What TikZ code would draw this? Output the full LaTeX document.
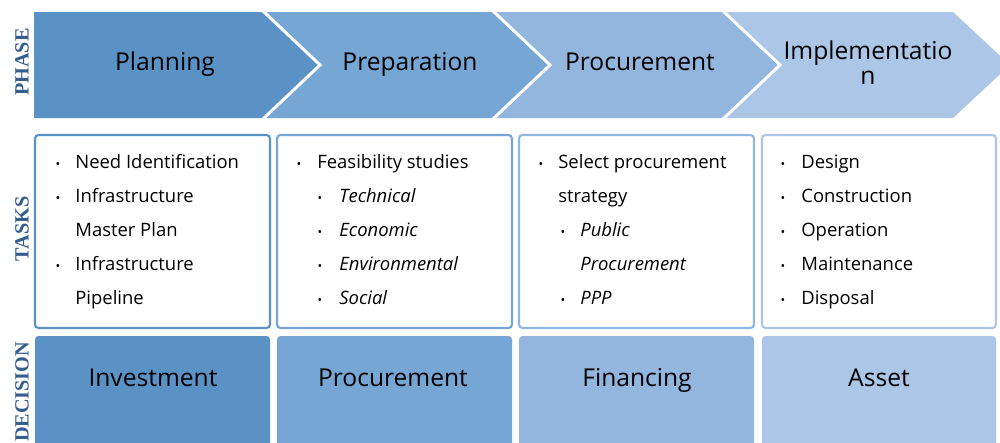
\documentclass[tikz,border=0pt]{standalone}
\usepackage{fontspec}
\setmainfont{Open Sans}
\newfontfamily\labelfont{Liberation Serif}
\usepackage{tikz}
\usetikzlibrary{positioning}

\definecolor{phaseA}{RGB}{91,146,198}
\definecolor{phaseB}{RGB}{117,166,212}
\definecolor{phaseC}{RGB}{146,182,222}
\definecolor{phaseD}{RGB}{172,198,232}
\definecolor{labelblue}{RGB}{52,92,140}

\tikzset{
  chevron/.style={fill=#1},
  separator/.style={draw=white, line width=1.7pt},
  taskbox/.style={draw=#1, line width=1.2pt, rounded corners=2pt, fill=white},
  decbox/.style={fill=#1, rounded corners=2pt},
  rowlabel/.style={rotate=90, font=\labelfont\bfseries\fontsize{11.5}{12}\selectfont, text=labelblue},
  phasetext/.style={anchor=base, inner sep=0pt, font=\fontsize{14}{14}\selectfont, align=center},
  item/.style={anchor=base west, inner sep=0pt, font=\fontsize{10.5}{12}\selectfont},
  subitem/.style={anchor=base west, inner sep=0pt, font=\itshape\fontsize{10.5}{12}\selectfont},
  dot/.style={anchor=base, inner sep=0pt, font=\fontsize{7}{8}\selectfont},
}

\begin{document}
\begin{tikzpicture}[x=0.2mm, y=-0.2mm]
\useasboundingbox (0,0) rectangle (1000,442);

% phase chevrons
\fill[chevron=phaseA] (34,12) -- (263,12) -- (320,65) -- (263,118) -- (34,118) -- cycle;
\fill[chevron=phaseB] (263,12) -- (493,12) -- (550,65) -- (493,118) -- (263,118) -- (320,65) -- cycle;
\fill[chevron=phaseC] (493,12) -- (723,12) -- (780,65) -- (723,118) -- (493,118) -- (550,65) -- cycle;
\fill[chevron=phaseD] (723,12) -- (953,12) -- (1010,65) -- (953,118) -- (723,118) -- (780,65) -- cycle;
\draw[separator] (263,11) -- (320,65) -- (263,119);
\draw[separator] (493,11) -- (550,65) -- (493,119);
\draw[separator] (723,11) -- (780,65) -- (723,119);

\node[phasetext] (planning) at (165,70) {Planning};
\node[phasetext] (preparation) at (410,70) {Preparation};
\node[phasetext] (procurement) at (640,70) {Procurement};
\node[phasetext] (implementation) at (868,84) {Implementatio\\n};

% task boxes
\draw[taskbox=phaseA] (35,135) rectangle (270,328);
\draw[taskbox=phaseB] (277,135) rectangle (512,328);
\draw[taskbox=phaseC] (519,135) rectangle (754,328);
\draw[taskbox=phaseD] (762,135) rectangle (996,328);

% planning tasks
\node[dot] (b1a) at (58,168) {\textbullet};
\node[item] (t1a) at (75,168) {Need Identification};
\node[dot] (b1b) at (58,202) {\textbullet};
\node[item] (t1b) at (75,202) {Infrastructure};
\node[item] (t1c) at (75,236) {Master Plan};
\node[dot] (b1d) at (58,270) {\textbullet};
\node[item] (t1d) at (75,270) {Infrastructure};
\node[item] (t1e) at (75,304) {Pipeline};

% preparation tasks
\node[dot] (b2a) at (299,168) {\textbullet};
\node[item] (t2a) at (317,168) {Feasibility studies};
\node[dot] (b2b) at (320,202) {\textbullet};
\node[subitem] (t2b) at (339,202) {Technical};
\node[dot] (b2c) at (320,236) {\textbullet};
\node[subitem] (t2c) at (339,236) {Economic};
\node[dot] (b2d) at (320,270) {\textbullet};
\node[subitem] (t2d) at (339,270) {Environmental};
\node[dot] (b2e) at (320,304) {\textbullet};
\node[subitem] (t2e) at (339,304) {Social};

% procurement tasks
\node[dot] (b3a) at (541,168) {\textbullet};
\node[item] (t3a) at (558,168) {Select procurement};
\node[item] (t3b) at (558,202) {strategy};
\node[dot] (b3c) at (563,236) {\textbullet};
\node[subitem] (t3c) at (580,236) {Public};
\node[subitem] (t3d) at (580,270) {Procurement};
\node[dot] (b3e) at (563,304) {\textbullet};
\node[subitem] (t3e) at (580,304) {PPP};

% implementation tasks
\node[dot] (b4a) at (783,168) {\textbullet};
\node[item] (t4a) at (801,168) {Design};
\node[dot] (b4b) at (783,202) {\textbullet};
\node[item] (t4b) at (801,202) {Construction};
\node[dot] (b4c) at (783,236) {\textbullet};
\node[item] (t4c) at (801,236) {Operation};
\node[dot] (b4d) at (783,270) {\textbullet};
\node[item] (t4d) at (801,270) {Maintenance};
\node[dot] (b4e) at (783,304) {\textbullet};
\node[item] (t4e) at (801,304) {Disposal};

% decision boxes
\fill[decbox=phaseA] (35,336) rectangle (270,450);
\fill[decbox=phaseB] (277,336) rectangle (512,450);
\fill[decbox=phaseC] (519,336) rectangle (754,450);
\fill[decbox=phaseD] (762,336) rectangle (996,450);

\node[phasetext] (investment) at (153,386) {Investment};
\node[phasetext] (procdecision) at (393,386) {Procurement};
\node[phasetext] (financing) at (637,386) {Financing};
\node[phasetext] (asset) at (879,386) {Asset};

% row labels
\node[rowlabel] (phaselabel) at (22,62) {PHASE};
\node[rowlabel] (taskslabel) at (22,229) {TASKS};
\node[rowlabel] (decisionlabel) at (22,392) {DECISION};
\end{tikzpicture}
\end{document}
